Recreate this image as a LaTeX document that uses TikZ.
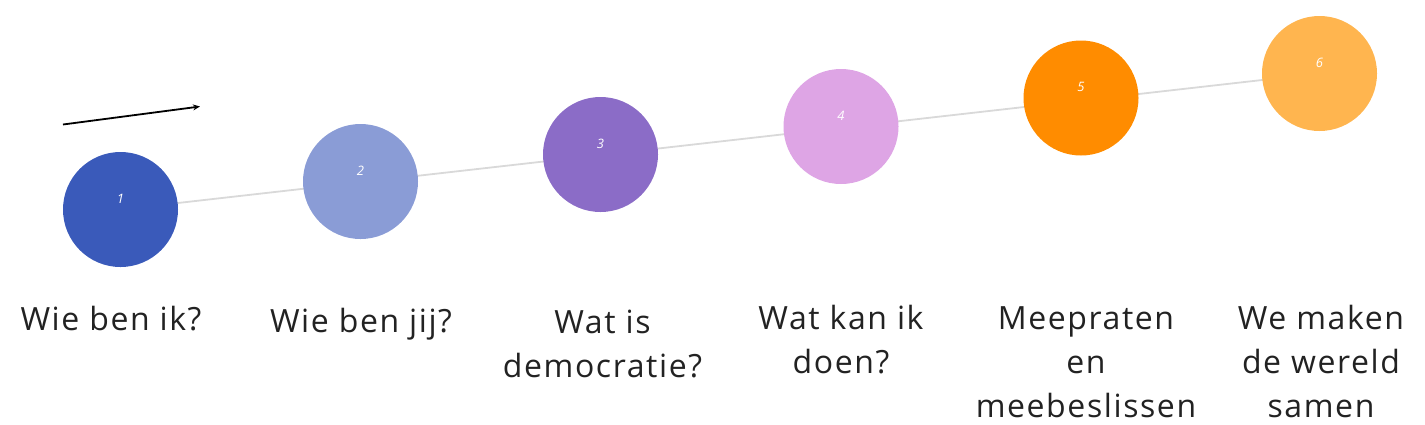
\documentclass[tikz,border=0pt]{standalone}
\usepackage{fontspec}
\setmainfont[LetterSpace=5]{Open Sans}
\usetikzlibrary{arrows.meta}
\definecolor{cA}{HTML}{3A5ABA}
\definecolor{cB}{HTML}{8A9CD6}
\definecolor{cC}{HTML}{8B6CC7}
\definecolor{cD}{HTML}{DEA5E5}
\definecolor{cE}{HTML}{FF8C00}
\definecolor{cF}{HTML}{FFB54F}
\definecolor{txt}{HTML}{222222}
\definecolor{linegray}{HTML}{D9D9D9}
\begin{document}
\begin{tikzpicture}[x=1pt,y=-1pt,
  dot/.style={circle,minimum size=115pt,inner sep=0pt,draw=none},
  num/.style={text=white,font=\fontsize{13}{13}\selectfont\itshape,inner sep=0pt},
  lbl/.style={text=txt,font=\fontsize{32}{44}\selectfont,align=center,anchor=base,inner sep=0pt},
  conn/.style={draw=linegray,line width=1.8pt}]
\useasboundingbox (0,0) rectangle (1425,424);
\coordinate (s1) at (120.5,209.5);
\coordinate (s6) at (1319.5,73.5);
\draw[conn] (s1) -- (s6);
\node[dot,fill=cA] (c1) at (s1) {};
\node[dot,fill=cB] (c2) at (360.5,181.5) {};
\node[dot,fill=cC] (c3) at (600.5,154.5) {};
\node[dot,fill=cD] (c4) at (841,126.5) {};
\node[dot,fill=cE] (c5) at (1081,98) {};
\node[dot,fill=cF] (c6) at (s6) {};
\node[num] (n1) at ([yshift=11pt]c1.center) {1};
\node[num] (n2) at ([yshift=11pt]c2.center) {2};
\node[num] (n3) at ([yshift=11pt]c3.center) {3};
\node[num] (n4) at ([yshift=11pt]c4.center) {4};
\node[num] (n5) at ([yshift=11pt]c5.center) {5};
\node[num] (n6) at ([yshift=11pt]c6.center) {6};
\coordinate (a0) at (63,124.5);
\coordinate (a1) at (200,106.5);
\draw[line width=1.8pt,-{Stealth[length=7pt,width=6pt]}] (a0) -- (a1);
\node[lbl] (l1) at (111,330) {Wie ben ik?};
\node[lbl] (l2) at (361,332) {Wie ben jij?};
\node[lbl] (l3) at (602.5,377) {Wat is\\democratie?};
\node[lbl] (l4) at (841,373) {Wat kan ik\\doen?};
\node[lbl] (l5) at (1086,417) {Meepraten\\en\\meebeslissen};
\node[lbl] (l6) at (1321,417) {We maken\\de wereld\\samen};
\end{tikzpicture}
\end{document}
